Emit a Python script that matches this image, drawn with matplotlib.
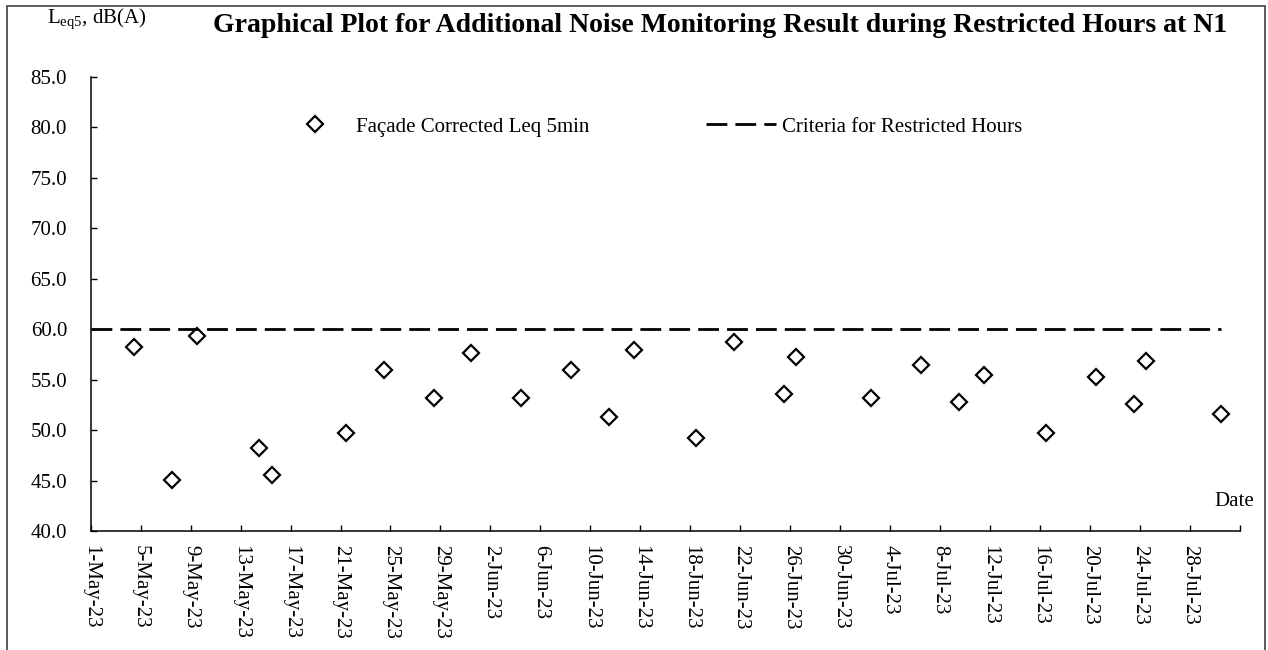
import matplotlib
matplotlib.use('Agg')
import matplotlib.pyplot as plt
import matplotlib.patches as mpatches
import pandas as pd

plt.rcParams['font.family'] = 'Liberation Serif'
plt.rcParams['mathtext.fontset'] = 'custom'
plt.rcParams['mathtext.rm'] = 'Liberation Serif'

# measurement times and facade corrected Leq 5min
dates = ['2023-05-04 11:30', '2023-05-07 11:30', '2023-05-09 11:30', '2023-05-14 11:30',
         '2023-05-15 11:30', '2023-05-21 11:30', '2023-05-24 11:30', '2023-05-28 11:30',
         '2023-05-31 11:30', '2023-06-04 11:30', '2023-06-08 11:30', '2023-06-11 11:30',
         '2023-06-13 11:30', '2023-06-18 11:30', '2023-06-21 11:30', '2023-06-25 11:30',
         '2023-06-26 11:30', '2023-07-02 11:30', '2023-07-06 11:30', '2023-07-09 11:30',
         '2023-07-11 11:30', '2023-07-16 11:30', '2023-07-20 11:30', '2023-07-23 11:30',
         '2023-07-24 11:30', '2023-07-30 11:30']
leq = [58.2, 45.1, 59.3, 48.2, 45.5, 49.7, 56.0, 53.2, 57.6, 53.2, 56.0, 51.3, 57.9,
       49.2, 58.7, 53.6, 57.2, 53.2, 56.5, 52.8, 55.5, 49.7, 55.3, 52.6, 56.8, 51.6]

criteria_dates = ['2023-05-01 00:00', '2023-07-30 11:30']
criteria = [60, 60]

x_start = '2023-05-01'
x_end = '2023-08-01'

dates = pd.to_datetime(dates)
criteria_dates = pd.to_datetime(criteria_dates)

fig = plt.figure(figsize=(12.68, 6.5), dpi=100)
ax = fig.add_axes([0.0715, 0.1831, 0.9064, 0.6985])

ax.plot(dates, leq, linestyle='none', marker='D', ms=7.8, mfc='white', mec='black',
        mew=1.6, label='Façade Corrected Leq 5min')
ax.plot(criteria_dates, criteria, color='black', lw=2, dashes=(7.5, 2.9),
        label='Criteria for Restricted Hours')

ticks = pd.date_range(x_start, x_end, freq='4D')
ax.set_xlim(pd.Timestamp(x_start), pd.Timestamp(x_end))
ax.set_xticks(ticks)
labels = [f"{d.day}-{d.strftime('%b-%y')}" for d in ticks]
labels[-1] = ''
ax.set_xticklabels(labels, rotation=270, va='top', ha='center')

ax.set_ylim(40, 85)
ax.set_yticks(range(40, 86, 5))
ax.set_yticklabels([f'{v:.1f}' for v in range(40, 86, 5)])

for s in ['top', 'right']:
    ax.spines[s].set_visible(False)
for s in ['left', 'bottom']:
    ax.spines[s].set_linewidth(1.1)
ax.tick_params(axis='both', direction='in', length=4.5, width=1, labelsize=15)
ax.tick_params(axis='x', pad=10)
ax.tick_params(axis='y', pad=17)

ax.legend(loc='center left', bbox_to_anchor=(280 / 1268, 1 - 127 / 650),
          bbox_transform=fig.transFigure, ncol=2, frameon=False, fontsize=15,
          handlelength=3.36, handletextpad=0.29, columnspacing=5.6,
          borderpad=0, borderaxespad=0, numpoints=1)

fig.text(720 / 1268, 1 - 25 / 650,
         'Graphical Plot for Additional Noise Monitoring Result during Restricted Hours at N1',
         ha='center', va='center', fontsize=20, fontweight='bold')
fig.text(47 / 1268, 1 - 19 / 650, r'L$_{\rm eq5}$, dB(A)', ha='left', va='center', fontsize=15)
fig.text(1254 / 1268, 1 - 501 / 650, 'Date', ha='right', va='center', fontsize=15)

# outer frame
fig.patches.append(mpatches.Rectangle((7 / 1268, -0.02), 1258 / 1268, 644 / 650 + 0.02,
                                      transform=fig.transFigure, fill=False,
                                      edgecolor='#404040', lw=1.2))

fig.savefig('out.png', dpi=100)
